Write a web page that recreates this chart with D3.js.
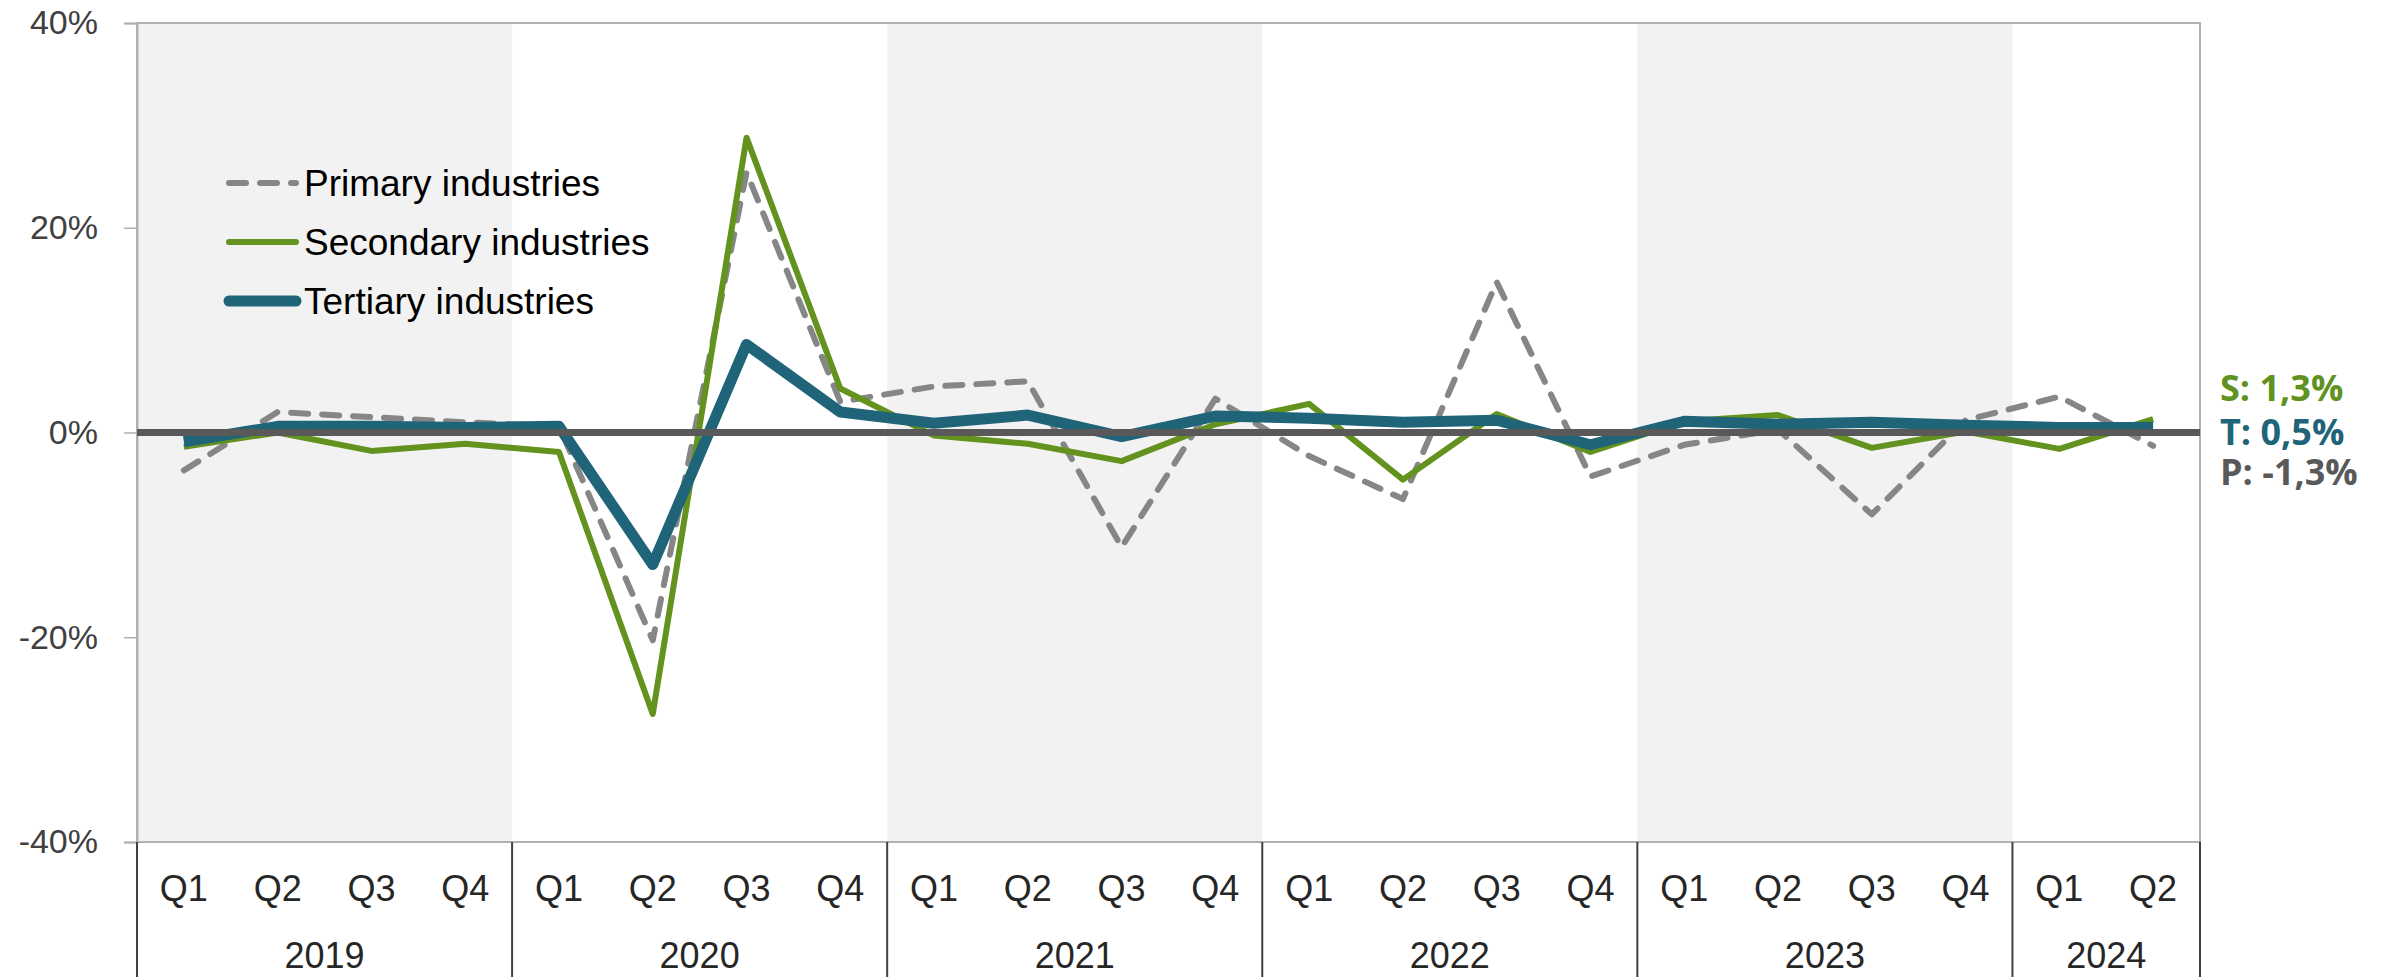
<!DOCTYPE html>
<html>
<head>
<meta charset="utf-8">
<script src="https://cdn.jsdelivr.net/npm/d3@7"></script>
<style>
    body { margin: 0; background: #fff; }
    svg { display: block; font-family: "Liberation Sans", Arial, sans-serif; }
</style>
</head>
<body>
<div id="chart"></div>
<script>
// quarters per year on the x axis
const years = ['2019', '2020', '2021', '2022', '2023', '2024'];
const quarterCount = [4, 4, 4, 4, 4, 2];
const yTicks = [-40, -20, 0, 20, 40];

// quarter-on-quarter change, %
const primary = [-3.7, 2.0, 1.5, 1.0, 0.6, -20.3, 25.4, 3.0, 4.5, 5.0, -11.2, 3.3, -2.3, -6.5, 14.7, -4.3, -1.2, 0.3, -8.0, 1.2, 3.5, -1.3];
const secondary = [-1.4, 0.0, -1.8, -1.1, -1.9, -27.5, 28.8, 4.3, -0.3, -1.1, -2.8, 0.8, 2.8, -4.6, 1.8, -1.9, 1.1, 1.7, -1.5, 0.1, -1.6, 1.3];
const tertiary = [-0.9, 0.6, 0.6, 0.5, 0.6, -12.9, 8.6, 2.0, 0.9, 1.7, -0.4, 1.6, 1.4, 1.0, 1.2, -1.2, 1.1, 0.8, 1.0, 0.7, 0.5, 0.5];

const endLabels = [
    { text: 'S: 1,3%', color: '#5f921f', dy: -44 },
    { text: 'T: 0,5%', color: '#1f6479', dy: 0 },
    { text: 'P: -1,3%', color: '#595959', dy: 40 }
];

const periods = [];
years.forEach((y, i) => {
    for (let q = 1; q <= quarterCount[i]; q++) periods.push({ key: y + 'Q' + q, year: y, q: 'Q' + q });
});

const width = 2385, height = 977;
const margin = { top: 23, right: 185, bottom: 135, left: 137 };

const svg = d3.select('#chart').append('svg')
    .attr('width', width)
    .attr('height', height);

const x = d3.scaleBand()
    .domain(periods.map(d => d.key))
    .range([margin.left, width - margin.right]);

const y = d3.scaleLinear()
    .domain([-40, 40])
    .range([height - margin.bottom, margin.top]);

const cx = k => x(k) + x.bandwidth() / 2;

// alternating year bands
years.forEach((yr, i) => {
    if (i % 2 !== 0) return;
    const keys = periods.filter(p => p.year === yr).map(p => p.key);
    svg.append('rect')
        .attr('x', x(keys[0]))
        .attr('y', y(40))
        .attr('width', x.bandwidth() * keys.length)
        .attr('height', y(-40) - y(40))
        .attr('fill', '#f2f2f2');
});

// plot frame
svg.append('rect')
    .attr('x', margin.left)
    .attr('y', y(40))
    .attr('width', x.range()[1] - margin.left)
    .attr('height', y(-40) - y(40))
    .attr('fill', 'none')
    .attr('stroke', '#b0b0b0')
    .attr('stroke-width', 2);

// y axis
const yAxis = svg.append('g')
    .attr('transform', `translate(${margin.left},0)`)
    .call(d3.axisLeft(y).tickValues(yTicks).tickFormat(d => d + '%').tickSize(13).tickPadding(26));
yAxis.select('.domain').attr('stroke', '#b0b0b0').attr('stroke-width', 2);
yAxis.selectAll('.tick line').attr('stroke', '#b0b0b0').attr('stroke-width', 1.5);
yAxis.selectAll('.tick text')
    .attr('font-size', 34)
    .attr('fill', '#404040')
    .attr('font-family', '"Liberation Sans", Arial, sans-serif');

// x axis: quarters and years
const xAxis = svg.append('g');
xAxis.selectAll('.q')
    .data(periods)
    .enter().append('text')
    .attr('x', d => cx(d.key))
    .attr('y', 901)
    .attr('text-anchor', 'middle')
    .attr('font-size', 36)
    .attr('fill', '#262626')
    .text(d => d.q);

const yearStart = years.map(yr => periods.find(p => p.year === yr).key);
xAxis.selectAll('.yr')
    .data(years)
    .enter().append('text')
    .attr('x', (d, i) => x(yearStart[i]) + x.bandwidth() * quarterCount[i] / 2)
    .attr('y', 968)
    .attr('text-anchor', 'middle')
    .attr('font-size', 36)
    .attr('fill', '#262626')
    .text(d => d);

const seps = yearStart.map(k => x(k)).concat([x.range()[1]]);
xAxis.selectAll('.sep')
    .data(seps)
    .enter().append('line')
    .attr('x1', d => d).attr('x2', d => d)
    .attr('y1', y(-40)).attr('y2', height)
    .attr('stroke', '#404040')
    .attr('stroke-width', 2);

// series
const line = d3.line()
    .x((d, i) => cx(periods[i].key))
    .y(d => y(d));

const series = [
    { name: 'Primary industries', values: primary, color: '#868686', width: 6, dash: '17,14' },
    { name: 'Secondary industries', values: secondary, color: '#63921f', width: 6, dash: null },
    { name: 'Tertiary industries', values: tertiary, color: '#1f6479', width: 11, dash: null }
];

series.forEach(s => {
    svg.append('path')
        .datum(s.values)
        .attr('d', line)
        .attr('fill', 'none')
        .attr('stroke', s.color)
        .attr('stroke-width', s.width)
        .attr('stroke-linejoin', 'round')
        .attr('stroke-linecap', s.dash ? 'round' : 'butt')
        .attr('stroke-dasharray', s.dash);
});

// zero line
svg.append('line')
    .attr('x1', margin.left).attr('x2', x.range()[1])
    .attr('y1', y(0)).attr('y2', y(0))
    .attr('stroke', '#595959')
    .attr('stroke-width', 7);

// legend
const legend = svg.append('g');
series.forEach((s, i) => {
    const ly = 183 + i * 59;
    legend.append('line')
        .attr('x1', 229).attr('x2', 296)
        .attr('y1', ly).attr('y2', ly)
        .attr('stroke', s.color)
        .attr('stroke-width', s.width)
        .attr('stroke-linecap', 'round')
        .attr('stroke-dasharray', s.dash);
    legend.append('text')
        .attr('x', 304)
        .attr('y', ly)
        .attr('dy', '0.35em')
        .attr('font-size', 37)
        .attr('fill', '#000')
        .text(s.name);
});

// end labels
svg.selectAll('.endlabel')
    .data(endLabels)
    .enter().append('text')
    .attr('x', 2220)
    .attr('y', d => y(0) + d.dy)
    .attr('dy', '0.35em')
    .attr('font-family', '"Open Sans", sans-serif')
    .attr('font-weight', 700)
    .attr('font-size', 36)
    .attr('fill', d => d.color)
    .text(d => d.text);
</script>
</body>
</html>
